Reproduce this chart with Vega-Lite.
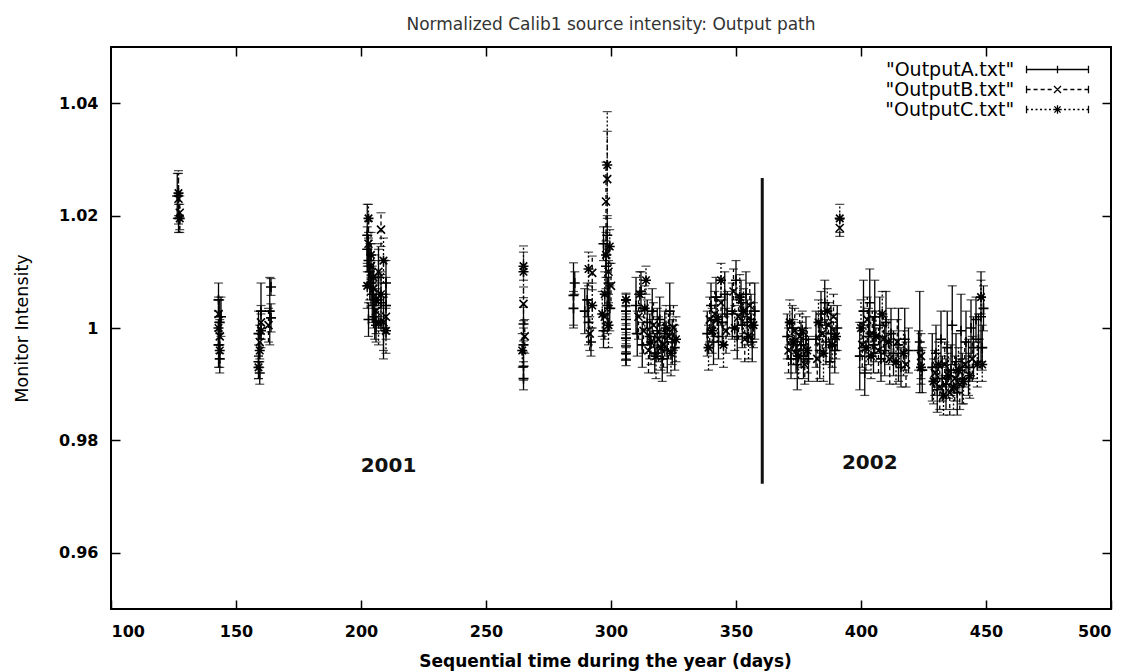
{
"$schema":"https://vega.github.io/schema/vega-lite/v6.json",
"width":1000,"height":562,
"autosize":{"type":"none"},
"padding":{"left":111,"top":47,"right":16,"bottom":62},
"background":"white",
"title":{"text":"Normalized Calib1 source intensity: Output path","font":"DejaVu Sans","fontSize":17,"fontWeight":"normal","color":"#333","offset":12,"anchor":"middle"},
"config":{"view":{"stroke":"#000","strokeWidth":2},
"axis":{"domain":false,"grid":false,"tickColor":"#000","tickSize":-9,"tickWidth":1.5,"labelFont":"DejaVu Sans","labelFontWeight":"bold","labelFontSize":16,"labelColor":"#000","titleFont":"DejaVu Sans","titleColor":"#000"}},
"resolve":{"scale":{"shape":"independent"},"legend":{"shape":"independent"}},
"datasets":{
"pts":[
{"s":"A","d":126.5,"v":1.0235,"lo":1.0195,"hi":1.0275},
{"s":"A","d":127,"v":1.0195,"lo":1.017,"hi":1.022},
{"s":"B","d":127,"v":1.023,"lo":1.0185,"hi":1.0275},
{"s":"B","d":127.5,"v":1.0205,"lo":1.0175,"hi":1.0235},
{"s":"C","d":127,"v":1.024,"lo":1.02,"hi":1.028},
{"s":"C","d":127.5,"v":1.0195,"lo":1.017,"hi":1.022},
{"s":"A","d":143,"v":1.005,"lo":1.002,"hi":1.008},
{"s":"A","d":143.5,"v":1.001,"lo":0.997,"hi":1.005},
{"s":"A","d":143,"v":0.997,"lo":0.993,"hi":1.001},
{"s":"A","d":143.5,"v":0.9945,"lo":0.992,"hi":0.997},
{"s":"B","d":143,"v":1.0025,"lo":0.9995,"hi":1.0055},
{"s":"B","d":143.5,"v":0.9985,"lo":0.9955,"hi":1.0015},
{"s":"C","d":143,"v":1.0,"lo":0.997,"hi":1.003},
{"s":"C","d":143.5,"v":0.996,"lo":0.993,"hi":0.999},
{"s":"A","d":144,"v":1.002,"lo":0.9985,"hi":1.0055},
{"s":"A","d":159,"v":0.999,"lo":0.995,"hi":1.003},
{"s":"A","d":159,"v":0.994,"lo":0.991,"hi":0.997},
{"s":"A","d":159.5,"v":0.992,"lo":0.99,"hi":0.994},
{"s":"A","d":160,"v":1.003,"lo":0.998,"hi":1.008},
{"s":"B","d":159.5,"v":0.9975,"lo":0.9945,"hi":1.0005},
{"s":"B","d":160,"v":1.001,"lo":0.998,"hi":1.004},
{"s":"C","d":159.5,"v":0.996,"lo":0.993,"hi":0.999},
{"s":"C","d":160,"v":0.9995,"lo":0.9965,"hi":1.0025},
{"s":"C","d":159,"v":0.993,"lo":0.991,"hi":0.995},
{"s":"A","d":163.5,"v":1.003,"lo":0.997,"hi":1.009},
{"s":"A","d":164,"v":1.0018,"lo":0.9993,"hi":1.0043},
{"s":"B","d":163,"v":1.0005,"lo":0.9975,"hi":1.0035},
{"s":"A","d":164,"v":1.0073,"lo":1.0058,"hi":1.0088},
{"s":"C","d":203,"v":1.0195,"lo":1.017,"hi":1.022},
{"s":"B","d":208,"v":1.0175,"lo":1.0145,"hi":1.0205},
{"s":"A","d":202.5,"v":1.014,"lo":1.01,"hi":1.018},
{"s":"A","d":203,"v":1.012,"lo":1.008,"hi":1.016},
{"s":"A","d":203.5,"v":1.01,"lo":1.005,"hi":1.015},
{"s":"A","d":204,"v":1.008,"lo":1.004,"hi":1.012},
{"s":"A","d":204.5,"v":1.006,"lo":1.001,"hi":1.011},
{"s":"A","d":205,"v":1.004,"lo":1.0,"hi":1.008},
{"s":"A","d":205.5,"v":1.002,"lo":0.998,"hi":1.006},
{"s":"A","d":206,"v":1.0005,"lo":0.9975,"hi":1.0035},
{"s":"B","d":203,"v":1.015,"lo":1.011,"hi":1.019},
{"s":"B","d":204,"v":1.011,"lo":1.007,"hi":1.015},
{"s":"B","d":205,"v":1.007,"lo":1.002,"hi":1.012},
{"s":"B","d":206,"v":1.003,"lo":0.999,"hi":1.007},
{"s":"B","d":207,"v":1.01,"lo":1.005,"hi":1.015},
{"s":"B","d":209,"v":1.001,"lo":0.996,"hi":1.006},
{"s":"C","d":204,"v":1.013,"lo":1.009,"hi":1.017},
{"s":"C","d":205,"v":1.009,"lo":1.005,"hi":1.013},
{"s":"C","d":206,"v":1.005,"lo":1.001,"hi":1.009},
{"s":"C","d":207,"v":1.001,"lo":0.997,"hi":1.005},
{"s":"C","d":208,"v":1.006,"lo":1.002,"hi":1.01},
{"s":"C","d":209,"v":1.012,"lo":1.008,"hi":1.016},
{"s":"A","d":207,"v":1.009,"lo":1.004,"hi":1.014},
{"s":"A","d":208,"v":1.0045,"lo":0.9995,"hi":1.0095},
{"s":"A","d":209,"v":1.0,"lo":0.9945,"hi":1.0055},
{"s":"A","d":210,"v":1.004,"lo":0.999,"hi":1.009},
{"s":"A","d":210,"v":1.008,"lo":1.004,"hi":1.012},
{"s":"B","d":210,"v":1.002,"lo":0.998,"hi":1.006},
{"s":"C","d":210,"v":0.9995,"lo":0.9955,"hi":1.0035},
{"s":"A","d":202.5,"v":1.0165,"lo":1.011,"hi":1.022},
{"s":"A","d":203,"v":1.0015,"lo":0.9985,"hi":1.0045},
{"s":"C","d":202.5,"v":1.0075,"lo":1.0035,"hi":1.0115},
{"s":"C","d":265,"v":1.011,"lo":1.0085,"hi":1.0135},
{"s":"C","d":265,"v":1.01,"lo":1.0054,"hi":1.0146},
{"s":"B","d":265,"v":1.0043,"lo":1.0013,"hi":1.0073},
{"s":"A","d":265,"v":1.0007,"lo":0.9977,"hi":1.0037},
{"s":"A","d":265,"v":0.997,"lo":0.994,"hi":1.0},
{"s":"A","d":265,"v":0.9932,"lo":0.9907,"hi":0.9957},
{"s":"A","d":265,"v":0.991,"lo":0.989,"hi":0.993},
{"s":"B","d":265.5,"v":0.9985,"lo":0.9955,"hi":1.0015},
{"s":"C","d":264.5,"v":0.996,"lo":0.993,"hi":0.999},
{"s":"A","d":285,"v":1.0058,"lo":1.0,"hi":1.0116},
{"s":"A","d":285,"v":1.0035,"lo":1.0005,"hi":1.0065},
{"s":"A","d":285.5,"v":1.008,"lo":1.006,"hi":1.01},
{"s":"C","d":291,"v":1.0105,"lo":1.0075,"hi":1.0135},
{"s":"A","d":290.5,"v":1.005,"lo":1.002,"hi":1.008},
{"s":"A","d":291,"v":1.001,"lo":0.997,"hi":1.005},
{"s":"B","d":291.5,"v":0.999,"lo":0.996,"hi":1.002},
{"s":"A","d":292,"v":0.9975,"lo":0.995,"hi":1.0},
{"s":"A","d":289.5,"v":1.003,"lo":0.999,"hi":1.007},
{"s":"B","d":292.5,"v":1.0098,"lo":1.0068,"hi":1.0128},
{"s":"C","d":292.5,"v":1.004,"lo":1.0,"hi":1.008},
{"s":"C","d":298.5,"v":1.029,"lo":1.0195,"hi":1.0385},
{"s":"B","d":298.5,"v":1.0265,"lo":1.018,"hi":1.035},
{"s":"B","d":298,"v":1.0225,"lo":1.0155,"hi":1.0295},
{"s":"A","d":297,"v":1.015,"lo":1.012,"hi":1.018},
{"s":"C","d":298,"v":1.013,"lo":1.009,"hi":1.017},
{"s":"A","d":298,"v":1.011,"lo":1.007,"hi":1.015},
{"s":"B","d":299,"v":1.01,"lo":1.006,"hi":1.014},
{"s":"A","d":299,"v":1.008,"lo":1.004,"hi":1.012},
{"s":"C","d":297.5,"v":1.006,"lo":1.002,"hi":1.01},
{"s":"A","d":298.5,"v":1.004,"lo":0.999,"hi":1.009},
{"s":"B","d":297.5,"v":1.002,"lo":0.998,"hi":1.006},
{"s":"C","d":299,"v":1.0005,"lo":0.9965,"hi":1.0045},
{"s":"A","d":297,"v":0.9995,"lo":0.9965,"hi":1.0025},
{"s":"A","d":299.5,"v":1.0035,"lo":0.9995,"hi":1.0075},
{"s":"C","d":299.5,"v":1.0145,"lo":1.0115,"hi":1.0175},
{"s":"A","d":298.5,"v":1.0165,"lo":1.013,"hi":1.02},
{"s":"B","d":300,"v":1.0075,"lo":1.0035,"hi":1.0115},
{"s":"C","d":296.5,"v":1.0025,"lo":0.9985,"hi":1.0065},
{"s":"A","d":306,"v":1.005,"lo":1.004,"hi":1.006},
{"s":"A","d":306,"v":1.003,"lo":1.002,"hi":1.004},
{"s":"A","d":306,"v":1.0015,"lo":1.0005,"hi":1.0025},
{"s":"A","d":306,"v":0.9998,"lo":0.9988,"hi":1.0008},
{"s":"A","d":306,"v":0.9982,"lo":0.9972,"hi":0.9992},
{"s":"A","d":306,"v":0.9968,"lo":0.9958,"hi":0.9978},
{"s":"A","d":306,"v":0.9955,"lo":0.9945,"hi":0.9965},
{"s":"A","d":306,"v":0.9943,"lo":0.9933,"hi":0.9953},
{"s":"C","d":306,"v":1.005,"lo":1.0038,"hi":1.0062},
{"s":"A","d":310,"v":1.004,"lo":0.999,"hi":1.009},
{"s":"A","d":310.5,"v":0.999,"lo":0.995,"hi":1.003},
{"s":"B","d":311,"v":1.002,"lo":0.998,"hi":1.006},
{"s":"C","d":311.5,"v":1.006,"lo":1.002,"hi":1.01},
{"s":"A","d":312,"v":1.0065,"lo":1.003,"hi":1.01},
{"s":"A","d":312.5,"v":0.997,"lo":0.993,"hi":1.001},
{"s":"B","d":313,"v":0.9995,"lo":0.9955,"hi":1.0035},
{"s":"C","d":313.5,"v":1.0035,"lo":0.9995,"hi":1.0075},
{"s":"C","d":314,"v":1.0085,"lo":1.006,"hi":1.011},
{"s":"A","d":314.5,"v":1.001,"lo":0.997,"hi":1.005},
{"s":"B","d":315,"v":0.996,"lo":0.992,"hi":1.0},
{"s":"A","d":315.5,"v":0.9985,"lo":0.9945,"hi":1.0025},
{"s":"C","d":316,"v":0.9975,"lo":0.9935,"hi":1.0015},
{"s":"A","d":316.5,"v":1.003,"lo":0.999,"hi":1.007},
{"s":"B","d":317,"v":1.0005,"lo":0.9965,"hi":1.0045},
{"s":"A","d":317.5,"v":0.9955,"lo":0.992,"hi":0.999},
{"s":"C","d":318,"v":0.995,"lo":0.991,"hi":0.999},
{"s":"A","d":318.5,"v":0.9995,"lo":0.9955,"hi":1.0035},
{"s":"B","d":319,"v":0.998,"lo":0.994,"hi":1.002},
{"s":"A","d":319.5,"v":1.0015,"lo":0.9975,"hi":1.0055},
{"s":"C","d":320,"v":0.9965,"lo":0.9925,"hi":1.0005},
{"s":"A","d":320.5,"v":0.9945,"lo":0.9905,"hi":0.9985},
{"s":"B","d":321,"v":0.997,"lo":0.993,"hi":1.001},
{"s":"A","d":321.5,"v":0.999,"lo":0.995,"hi":1.003},
{"s":"C","d":322,"v":1.0,"lo":0.996,"hi":1.004},
{"s":"A","d":322.5,"v":0.996,"lo":0.992,"hi":1.0},
{"s":"B","d":323,"v":0.9985,"lo":0.9945,"hi":1.0025},
{"s":"A","d":323.5,"v":1.003,"lo":0.998,"hi":1.008},
{"s":"C","d":324,"v":0.9955,"lo":0.9915,"hi":0.9995},
{"s":"A","d":324.5,"v":0.9975,"lo":0.9935,"hi":1.0015},
{"s":"B","d":325,"v":1.0,"lo":0.996,"hi":1.004},
{"s":"A","d":325.5,"v":0.9965,"lo":0.9925,"hi":1.0005},
{"s":"C","d":326,"v":0.998,"lo":0.994,"hi":1.002},
{"s":"A","d":338.5,"v":0.999,"lo":0.995,"hi":1.003},
{"s":"C","d":339,"v":0.9965,"lo":0.9925,"hi":1.0005},
{"s":"B","d":339.5,"v":1.0015,"lo":0.9975,"hi":1.0055},
{"s":"A","d":340,"v":1.004,"lo":1.0,"hi":1.008},
{"s":"C","d":340.5,"v":0.9995,"lo":0.9955,"hi":1.0035},
{"s":"A","d":341,"v":0.9975,"lo":0.9935,"hi":1.0015},
{"s":"B","d":341.5,"v":1.0025,"lo":0.9985,"hi":1.0065},
{"s":"A","d":342,"v":1.0055,"lo":1.002,"hi":1.009},
{"s":"C","d":342.5,"v":1.0015,"lo":0.9975,"hi":1.0055},
{"s":"A","d":343,"v":0.9985,"lo":0.9945,"hi":1.0025},
{"s":"C","d":344,"v":1.0085,"lo":1.0055,"hi":1.0115},
{"s":"B","d":344,"v":1.0045,"lo":1.0005,"hi":1.0085},
{"s":"A","d":344.5,"v":1.001,"lo":0.997,"hi":1.005},
{"s":"C","d":345,"v":0.997,"lo":0.993,"hi":1.001},
{"s":"A","d":345.5,"v":1.006,"lo":1.002,"hi":1.01},
{"s":"B","d":346,"v":0.9995,"lo":0.9955,"hi":1.0035},
{"s":"A","d":346.5,"v":1.0025,"lo":0.9985,"hi":1.0065},
{"s":"A","d":348.5,"v":1.003,"lo":0.998,"hi":1.008},
{"s":"B","d":349,"v":1.0065,"lo":1.0025,"hi":1.0105},
{"s":"C","d":349.5,"v":1.0,"lo":0.996,"hi":1.004},
{"s":"A","d":350,"v":1.0085,"lo":1.005,"hi":1.012},
{"s":"A","d":350.5,"v":0.9985,"lo":0.9945,"hi":1.0025},
{"s":"B","d":351,"v":1.002,"lo":0.998,"hi":1.006},
{"s":"C","d":351.5,"v":1.0055,"lo":1.0015,"hi":1.0095},
{"s":"A","d":352,"v":1.0045,"lo":1.0005,"hi":1.0085},
{"s":"A","d":352.5,"v":1.0005,"lo":0.9965,"hi":1.0045},
{"s":"C","d":353,"v":1.003,"lo":0.999,"hi":1.007},
{"s":"B","d":353.5,"v":0.998,"lo":0.994,"hi":1.002},
{"s":"A","d":354,"v":1.006,"lo":1.002,"hi":1.01},
{"s":"A","d":354.5,"v":1.001,"lo":0.997,"hi":1.005},
{"s":"C","d":355,"v":0.9985,"lo":0.9945,"hi":1.0025},
{"s":"B","d":355.5,"v":1.004,"lo":1.0,"hi":1.008},
{"s":"A","d":356,"v":1.0015,"lo":0.997,"hi":1.006},
{"s":"A","d":356.5,"v":0.9975,"lo":0.994,"hi":1.001},
{"s":"C","d":357,"v":1.0005,"lo":0.9965,"hi":1.0045},
{"s":"A","d":357.5,"v":1.003,"lo":0.998,"hi":1.008},
{"s":"A","d":370.5,"v":0.9985,"lo":0.9945,"hi":1.0025},
{"s":"B","d":371,"v":0.996,"lo":0.992,"hi":1.0},
{"s":"C","d":371.5,"v":1.001,"lo":0.997,"hi":1.005},
{"s":"A","d":372,"v":0.9945,"lo":0.991,"hi":0.998},
{"s":"A","d":372.5,"v":1.0,"lo":0.996,"hi":1.004},
{"s":"C","d":373,"v":0.9975,"lo":0.9935,"hi":1.0015},
{"s":"B","d":373.5,"v":0.9995,"lo":0.9955,"hi":1.0035},
{"s":"A","d":374,"v":0.996,"lo":0.992,"hi":1.0},
{"s":"A","d":374.5,"v":0.9935,"lo":0.989,"hi":0.998},
{"s":"C","d":375,"v":0.995,"lo":0.991,"hi":0.999},
{"s":"B","d":375.5,"v":0.9985,"lo":0.9945,"hi":1.0025},
{"s":"A","d":376,"v":0.997,"lo":0.993,"hi":1.001},
{"s":"C","d":376.5,"v":0.9995,"lo":0.996,"hi":1.003},
{"s":"A","d":377,"v":0.995,"lo":0.991,"hi":0.999},
{"s":"B","d":377.5,"v":0.9935,"lo":0.99,"hi":0.997},
{"s":"A","d":378,"v":0.998,"lo":0.994,"hi":1.002},
{"s":"C","d":378.5,"v":0.996,"lo":0.992,"hi":1.0},
{"s":"A","d":379,"v":0.9945,"lo":0.9905,"hi":0.9985},
{"s":"A","d":382,"v":0.998,"lo":0.993,"hi":1.003},
{"s":"B","d":382.5,"v":0.9945,"lo":0.9905,"hi":0.9985},
{"s":"C","d":383,"v":1.001,"lo":0.997,"hi":1.005},
{"s":"A","d":383.5,"v":0.996,"lo":0.991,"hi":1.001},
{"s":"A","d":384,"v":1.0025,"lo":0.9985,"hi":1.0065},
{"s":"B","d":384.5,"v":0.999,"lo":0.995,"hi":1.003},
{"s":"C","d":385,"v":0.9955,"lo":0.9905,"hi":1.0005},
{"s":"A","d":385.5,"v":1.0045,"lo":1.0005,"hi":1.0085},
{"s":"A","d":386,"v":0.9975,"lo":0.9935,"hi":1.0015},
{"s":"C","d":386.5,"v":1.003,"lo":0.999,"hi":1.007},
{"s":"B","d":387,"v":1.0005,"lo":0.9965,"hi":1.0045},
{"s":"A","d":387.5,"v":0.994,"lo":0.99,"hi":0.998},
{"s":"A","d":388,"v":0.999,"lo":0.994,"hi":1.004},
{"s":"C","d":388.5,"v":0.997,"lo":0.993,"hi":1.001},
{"s":"B","d":389,"v":1.002,"lo":0.998,"hi":1.006},
{"s":"A","d":389.5,"v":0.996,"lo":0.992,"hi":1.0},
{"s":"C","d":390,"v":0.9985,"lo":0.9945,"hi":1.0025},
{"s":"A","d":390.5,"v":1.0,"lo":0.996,"hi":1.004},
{"s":"C","d":391.5,"v":1.0195,"lo":1.017,"hi":1.022},
{"s":"B","d":391.5,"v":1.0178,"lo":1.0163,"hi":1.0193},
{"s":"A","d":399.5,"v":0.995,"lo":0.989,"hi":1.001},
{"s":"C","d":400,"v":1.0,"lo":0.995,"hi":1.005},
{"s":"B","d":400.5,"v":0.997,"lo":0.993,"hi":1.001},
{"s":"A","d":401,"v":1.003,"lo":0.9975,"hi":1.0085},
{"s":"A","d":401.5,"v":0.992,"lo":0.988,"hi":0.996},
{"s":"C","d":402,"v":0.9965,"lo":0.9925,"hi":1.0005},
{"s":"B","d":402.5,"v":1.0015,"lo":0.9975,"hi":1.0055},
{"s":"A","d":403,"v":0.9985,"lo":0.9935,"hi":1.0035},
{"s":"A","d":403.5,"v":1.0045,"lo":0.9985,"hi":1.0105},
{"s":"C","d":404,"v":0.995,"lo":0.991,"hi":0.999},
{"s":"B","d":404.5,"v":0.999,"lo":0.995,"hi":1.003},
{"s":"A","d":405,"v":0.997,"lo":0.992,"hi":1.002},
{"s":"A","d":405.5,"v":1.002,"lo":0.9955,"hi":1.0085},
{"s":"C","d":406,"v":0.9985,"lo":0.994,"hi":1.003},
{"s":"B","d":407,"v":0.996,"lo":0.992,"hi":1.0},
{"s":"A","d":407.5,"v":1.0005,"lo":0.9955,"hi":1.0055},
{"s":"A","d":408,"v":0.9945,"lo":0.9905,"hi":0.9985},
{"s":"C","d":408.5,"v":1.0025,"lo":0.9985,"hi":1.0065},
{"s":"B","d":409,"v":0.998,"lo":0.994,"hi":1.002},
{"s":"A","d":409.5,"v":0.996,"lo":0.9915,"hi":1.0005},
{"s":"A","d":410,"v":1.001,"lo":0.9955,"hi":1.0065},
{"s":"C","d":411,"v":0.9975,"lo":0.9935,"hi":1.0015},
{"s":"B","d":411.5,"v":0.9945,"lo":0.99,"hi":0.999},
{"s":"A","d":412,"v":0.999,"lo":0.9945,"hi":1.0035},
{"s":"A","d":413,"v":0.9955,"lo":0.9915,"hi":0.9995},
{"s":"C","d":414,"v":0.994,"lo":0.99,"hi":0.998},
{"s":"B","d":414.5,"v":0.9975,"lo":0.9935,"hi":1.0015},
{"s":"A","d":415,"v":0.997,"lo":0.9905,"hi":1.0035},
{"s":"A","d":416,"v":0.993,"lo":0.9895,"hi":0.9965},
{"s":"C","d":417,"v":0.9955,"lo":0.9915,"hi":0.9995},
{"s":"A","d":417.5,"v":0.998,"lo":0.9925,"hi":1.0035},
{"s":"B","d":418,"v":0.9935,"lo":0.9895,"hi":0.9975},
{"s":"A","d":419,"v":0.996,"lo":0.992,"hi":1.0},
{"s":"A","d":423.5,"v":0.9975,"lo":0.9885,"hi":1.0065},
{"s":"B","d":424,"v":0.995,"lo":0.991,"hi":0.999},
{"s":"C","d":424,"v":0.993,"lo":0.99,"hi":0.996},
{"s":"A","d":424.5,"v":0.9925,"lo":0.9885,"hi":0.9965},
{"s":"A","d":423,"v":0.996,"lo":0.9925,"hi":0.9995},
{"s":"A","d":428.5,"v":0.993,"lo":0.987,"hi":0.999},
{"s":"C","d":429,"v":0.9905,"lo":0.9865,"hi":0.9945},
{"s":"B","d":429.5,"v":0.992,"lo":0.988,"hi":0.996},
{"s":"A","d":430,"v":0.9955,"lo":0.9905,"hi":1.0005},
{"s":"A","d":430.5,"v":0.989,"lo":0.985,"hi":0.993},
{"s":"C","d":431,"v":0.9935,"lo":0.9895,"hi":0.9975},
{"s":"B","d":431.5,"v":0.9895,"lo":0.9855,"hi":0.9935},
{"s":"A","d":432,"v":0.998,"lo":0.993,"hi":1.003},
{"s":"A","d":432.5,"v":0.991,"lo":0.987,"hi":0.995},
{"s":"C","d":433,"v":0.988,"lo":0.9845,"hi":0.9915},
{"s":"B","d":433.5,"v":0.9935,"lo":0.9895,"hi":0.9975},
{"s":"A","d":434,"v":0.99,"lo":0.9855,"hi":0.9945},
{"s":"A","d":434.5,"v":0.9965,"lo":0.99,"hi":1.003},
{"s":"C","d":435,"v":0.9915,"lo":0.9875,"hi":0.9955},
{"s":"B","d":435.5,"v":0.9885,"lo":0.9845,"hi":0.9925},
{"s":"A","d":436,"v":0.9925,"lo":0.988,"hi":0.997},
{"s":"A","d":436.5,"v":1.0005,"lo":0.9935,"hi":1.0075},
{"s":"C","d":437,"v":0.9895,"lo":0.9855,"hi":0.9935},
{"s":"B","d":437.5,"v":0.991,"lo":0.987,"hi":0.995},
{"s":"A","d":438,"v":0.994,"lo":0.989,"hi":0.999},
{"s":"A","d":438.5,"v":0.9885,"lo":0.9845,"hi":0.9925},
{"s":"C","d":439,"v":0.9925,"lo":0.9885,"hi":0.9965},
{"s":"B","d":439.5,"v":0.99,"lo":0.9855,"hi":0.9945},
{"s":"A","d":440,"v":0.9995,"lo":0.993,"hi":1.006},
{"s":"A","d":440.5,"v":0.991,"lo":0.9865,"hi":0.9955},
{"s":"C","d":441,"v":0.9905,"lo":0.9865,"hi":0.9945},
{"s":"B","d":441.5,"v":0.9935,"lo":0.9895,"hi":0.9975},
{"s":"A","d":442,"v":0.9975,"lo":0.992,"hi":1.003},
{"s":"A","d":443,"v":0.993,"lo":0.988,"hi":0.998},
{"s":"C","d":443.5,"v":0.9915,"lo":0.9875,"hi":0.9955},
{"s":"A","d":444,"v":1.0,"lo":0.995,"hi":1.005},
{"s":"B","d":444.5,"v":0.9945,"lo":0.9905,"hi":0.9985},
{"s":"A","d":445,"v":0.9965,"lo":0.991,"hi":1.002},
{"s":"A","d":446,"v":1.0015,"lo":0.9975,"hi":1.0055},
{"s":"C","d":446.5,"v":0.9935,"lo":0.9895,"hi":0.9975},
{"s":"A","d":447,"v":0.998,"lo":0.9935,"hi":1.0025},
{"s":"A","d":448,"v":1.002,"lo":0.994,"hi":1.01},
{"s":"C","d":448,"v":1.0055,"lo":1.0025,"hi":1.0085},
{"s":"A","d":448.5,"v":0.9965,"lo":0.9925,"hi":1.0005},
{"s":"C","d":448.5,"v":0.9935,"lo":0.9905,"hi":0.9965},
{"s":"A","d":449,"v":1.0035,"lo":0.9995,"hi":1.0075}
],
"yr":[{"d":360.5,"lo":0.9723,"hi":1.0267}],
"lab":[{"d":211,"v":0.9755,"t":"2001"},{"d":403.5,"v":0.976,"t":"2002"}]
},
"layer":[
{"data":{"name":"pts"},"transform":[{"filter":"datum.s=='A'"}],"mark":{"type":"rule","strokeWidth":1.3,"color":"#000"},
 "encoding":{
  "x":{"field":"d","type":"quantitative","scale":{"domain":[100,500],"nice":false,"zero":false},
       "axis":{"orient":"bottom","values":[100,150,200,250,300,350,400,450,500],"labelPadding":23,"title":"Sequential time during the year (days)","titleFontSize":17,"titleFontWeight":"bold","titlePadding":14,"titleX":494}},
  "y":{"field":"lo","type":"quantitative","scale":{"domain":[0.95,1.05],"nice":false,"zero":false},
       "axis":{"orient":"left","values":[0.96,0.98,1,1.02,1.04],"format":"~g","labelPadding":22,"title":"Monitor Intensity","titleFontSize":17.5,"titleFontWeight":"normal","titlePadding":27}},
  "y2":{"field":"hi"}}},
{"data":{"name":"pts"},"transform":[{"filter":"datum.s=='B'"}],"mark":{"type":"rule","strokeWidth":1.3,"color":"#000","strokeDash":[4,3]},
 "encoding":{"x":{"field":"d","type":"quantitative","axis":null},"y":{"field":"lo","type":"quantitative","axis":null},"y2":{"field":"hi"}}},
{"data":{"name":"pts"},"transform":[{"filter":"datum.s=='C'"}],"mark":{"type":"rule","strokeWidth":1.3,"color":"#000","strokeDash":[2,2]},
 "encoding":{"x":{"field":"d","type":"quantitative","axis":null},"y":{"field":"lo","type":"quantitative","axis":null},"y2":{"field":"hi"}}},
{"data":{"name":"pts"},"mark":{"type":"tick","orient":"horizontal","size":9,"thickness":1.2,"color":"#000"},
 "encoding":{"x":{"field":"d","type":"quantitative","axis":null},"y":{"field":"lo","type":"quantitative","axis":null}}},
{"data":{"name":"pts"},"mark":{"type":"tick","orient":"horizontal","size":9,"thickness":1.2,"color":"#000"},
 "encoding":{"x":{"field":"d","type":"quantitative","axis":null},"y":{"field":"hi","type":"quantitative","axis":null}}},
{"data":{"name":"pts"},"mark":{"type":"point","filled":false,"stroke":"#000","strokeWidth":1.6,"size":100,"opacity":1},
 "encoding":{"x":{"field":"d","type":"quantitative","axis":null},"y":{"field":"v","type":"quantitative","axis":null},
  "shape":{"field":"s","type":"nominal","scale":{"domain":["A","B","C"],"range":["M-1,0L1,0M0,-1L0,1","M-0.8,-0.8L0.8,0.8M-0.8,0.8L0.8,-0.8","M-1,0L1,0M0,-1L0,1M-0.75,-0.75L0.75,0.75M-0.75,0.75L0.75,-0.75"]},"legend":null}}},
{"data":{"name":"pts"},"transform":[{"filter":"datum.s=='Z'"}],"mark":{"type":"point","filled":false,"color":"#000","strokeWidth":1.3,"opacity":1},
 "encoding":{"x":{"field":"d","type":"quantitative","axis":null},"y":{"field":"v","type":"quantitative","axis":null},
  "shape":{"field":"s","type":"nominal","scale":{"domain":["A","B","C"],"range":[
   "M-4,0L4,0M-4,-0.5L-4,0.5M4,-0.5L4,0.5M0,-0.5L0,0.5",
   "M-4,0L-3.48,0M-3.09,0L-2.57,0M-2.18,0L-1.66,0M-1.27,0L-0.75,0M0.75,0L1.27,0M1.66,0L2.18,0M2.57,0L3.09,0M3.48,0L4,0M-4,-0.5L-4,0.5M4,-0.5L4,0.5M-0.45,-0.45L0.45,0.45M-0.45,0.45L0.45,-0.45",
   "M-4,0L-3.74,0M-3.42,0L-3.16,0M-2.84,0L-2.58,0M-2.26,0L-2,0M-1.68,0L-1.42,0M-1.1,0L-0.84,0M0.84,0L1.1,0M1.42,0L1.68,0M2,0L2.26,0M2.58,0L2.84,0M3.16,0L3.42,0M3.74,0L4,0M-4,-0.5L-4,0.5M4,-0.5L4,0.5M0,-0.55L0,0.55M-0.55,0L0.55,0M-0.4,-0.4L0.4,0.4M-0.4,0.4L0.4,-0.4"]},
   "legend":{"orient":"none","legendX":937,"legendY":13,"title":null,"symbolSize":240,"labelAlign":"right","labelOffset":-52.75,"labelFont":"DejaVu Sans","labelFontSize":19,"labelColor":"#000","rowPadding":0,"symbolStrokeWidth":1.3,"symbolStrokeColor":"#000","symbolFillColor":"transparent","symbolOpacity":1,
    "labelExpr":"'\"Output' + datum.label + '.txt\"'"}}}},
{"data":{"name":"yr"},"mark":{"type":"rule","strokeWidth":3,"color":"#111"},
 "encoding":{"x":{"field":"d","type":"quantitative","axis":{"orient":"top","labels":false,"title":null,"values":[150,200,250,300,350,400,450]}},
  "y":{"field":"lo","type":"quantitative","axis":{"orient":"right","labels":false,"title":null,"values":[0.96,0.98,1,1.02,1.04]}},"y2":{"field":"hi"}}},
{"data":{"name":"lab"},"mark":{"type":"text","font":"DejaVu Sans","fontSize":20,"fontWeight":"bold","color":"#111"},
 "encoding":{"x":{"field":"d","type":"quantitative","axis":null},"y":{"field":"v","type":"quantitative","axis":null},"text":{"field":"t"}}}
]
}
